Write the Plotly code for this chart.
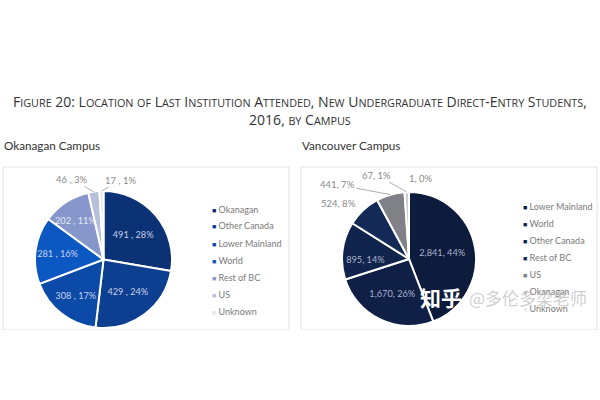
import math
import plotly.graph_objects as go

# ---- data ----
ok_labels = ["Okanagan", "Other Canada", "Lower Mainland", "World", "Rest of BC", "US", "Unknown"]
ok_values = [491, 429, 308, 281, 202, 46, 17]
ok_colors = ["#0b3275", "#0d3f91", "#0c4aa8", "#0b58c2", "#8797cc", "#b7bfdb", "#e3e5eb"]

va_labels = ["Lower Mainland", "World", "Other Canada", "Rest of BC", "US", "Okanagan", "Unknown"]
va_values = [2841, 1670, 895, 524, 441, 67, 1]
va_colors = ["#0d1b3d", "#0f1f46", "#11244e", "#132a56", "#808087", "#c9c9cd", "#efefef"]

title_text = "Figure 20: Location of Last Institution Attended, New Undergraduate Direct-Entry Students,<br>2016, by Campus"
sub_titles = ["Okanagan Campus", "Vancouver Campus"]

W, H = 600, 400
def px(x): return x / W
def py(y): return 1 - y / H

def small_caps(s, small=10.8):
    out = []
    i = 0
    while i < len(s):
        if s.startswith("<br>", i):
            out.append("<br>"); i += 4; continue
        ch = s[i]
        if ch.islower():
            j = i
            while j < len(s) and s[j].islower():
                j += 1
            out.append("<span style='font-size:%spx'>%s</span>" % (small, s[i:j].upper()))
            i = j
        else:
            out.append(ch); i += 1
    return "".join(out)

# pie geometry (pixels)
ok_geo = dict(cx=103.5, cy=259.5, r=68.5)
va_geo = dict(cx=409, cy=259, r=67)

# slices labelled outside: index -> (text dx, text dy, draw leader)
ok_out = {5: (-22, -12, True), 6: (20, -11, True)}
va_out = {3: (-25, -7, False), 4: (-53, -10, True), 5: (-30, -17, True), 6: (12, -14, False)}
# slices whose inside label is placed manually: index -> (radius fraction, angle shift in degrees)
ok_in = {4: (0.70, -2)}
va_in = {}

label_font = "Lato"
in_size, out_size = 9.2, 9.5

fig = go.Figure()

def add_pie(labels, values, colors, geo, out, inn, sep, inside_color):
    pos = ["none" if (i in out or i in inn) else "inside" for i in range(len(values))]
    fig.add_trace(go.Pie(
        labels=labels, values=values, sort=False, direction="clockwise", rotation=0,
        marker=dict(colors=colors, line=dict(color="white", width=2)),
        texttemplate="%{value:,}" + sep + "%{percent:.0%}",
        textposition=pos,
        insidetextorientation="horizontal",
        insidetextfont=dict(color=inside_color, size=in_size, family=label_font),
        domain=dict(x=[px(geo["cx"] - geo["r"]), px(geo["cx"] + geo["r"])],
                    y=[py(geo["cy"] + geo["r"]), py(geo["cy"] - geo["r"])]),
        showlegend=False, hoverinfo="label+value+percent",
    ))

add_pie(ok_labels, ok_values, ok_colors, ok_geo, ok_out, ok_in, " , ", "#c8d0ea")
add_pie(va_labels, va_values, va_colors, va_geo, va_out, va_in, ", ", "#a9b3ca")

annotations = []

def slice_labels(values, geo, out, inn, sep, inside_color):
    total = sum(values)
    cum = 0
    for i, v in enumerate(values):
        mid = (cum + v / 2) / total
        cum += v
        th = 2 * math.pi * mid
        txt = "{:,}{}{}%".format(v, sep, round(100 * v / total))
        if i in out:
            tx = geo["cx"] + geo["r"] * math.sin(th)
            ty = geo["cy"] - geo["r"] * math.cos(th)
            dx, dy, leader = out[i]
            annotations.append(dict(
                x=px(tx), y=py(ty), xref="paper", yref="paper", ax=dx, ay=dy,
                text=txt, showarrow=True, arrowhead=0, arrowwidth=1, standoff=0,
                arrowcolor="#b0b0b0" if leader else "rgba(0,0,0,0)",
                font=dict(family=label_font, size=out_size, color="#8a8a8a")))
        elif i in inn:
            f, shift = inn[i]
            th2 = th + math.radians(shift)
            tx = geo["cx"] + f * geo["r"] * math.sin(th2)
            ty = geo["cy"] - f * geo["r"] * math.cos(th2)
            annotations.append(dict(
                x=px(tx), y=py(ty), xref="paper", yref="paper", showarrow=False,
                xanchor="center", yanchor="middle", text=txt,
                font=dict(family=label_font, size=in_size, color=inside_color)))

slice_labels(ok_values, ok_geo, ok_out, ok_in, " , ", "#e4e8f6")
slice_labels(va_values, va_geo, va_out, va_in, ", ", "#a9b3ca")

# title
annotations.append(dict(x=0.5, y=py(110), xref="paper", yref="paper", xanchor="center", yanchor="middle",
                        text=small_caps(title_text), showarrow=False,
                        font=dict(family="Open Sans", size=14, color="#333333")))
# subtitles
for xs, t in zip([2, 300], sub_titles):
    annotations.append(dict(x=px(xs), y=py(145), xref="paper", yref="paper", xanchor="left", yanchor="middle",
                            text=t, showarrow=False, font=dict(family="Lato", size=11.7, color="#333333")))
# legends
def legend(labels, colors, x0, y0, dy=17):
    for k, (lab, c) in enumerate(zip(labels, colors)):
        annotations.append(dict(x=px(x0), y=py(y0 + k * dy), xref="paper", yref="paper",
                                xanchor="left", yanchor="middle", showarrow=False,
                                text="<span style='color:%s;font-size:7px'>■</span> %s" % (c, lab),
                                font=dict(family="Lato", size=9, color="#7a7a7a")))
legend(ok_labels, ok_colors, 210, 209)
legend(va_labels, va_colors, 521, 206)

# watermark
annotations.append(dict(x=px(441), y=py(297), xref="paper", yref="paper", xanchor="center", yanchor="middle",
                        text="<b>知乎</b>", showarrow=False,
                        font=dict(family="Noto Sans CJK SC", size=21, color="white")))
annotations.append(dict(x=px(467), y=py(297), xref="paper", yref="paper", xanchor="left", yanchor="middle",
                        text="@多伦多梁老师", showarrow=False,
                        font=dict(family="Noto Sans CJK SC", size=17, color="rgba(185,185,185,0.7)")))

shapes = []
for x0, x1 in [(3, 289), (301, 597)]:
    shapes.append(dict(type="rect", xref="paper", yref="paper", x0=px(x0), x1=px(x1), y0=py(330), y1=py(167),
                       line=dict(color="#e2e2e2", width=1), fillcolor="rgba(0,0,0,0)", layer="below"))
# clip below boxes
shapes.append(dict(type="rect", xref="paper", yref="paper", x0=0, x1=1, y0=0, y1=py(330),
                   line=dict(width=0), fillcolor="white", layer="above"))

fig.update_layout(width=W, height=H, margin=dict(l=0, r=0, t=0, b=0),
                  paper_bgcolor="white", plot_bgcolor="white",
                  annotations=annotations, shapes=shapes)

fig.write_html("out.html")
